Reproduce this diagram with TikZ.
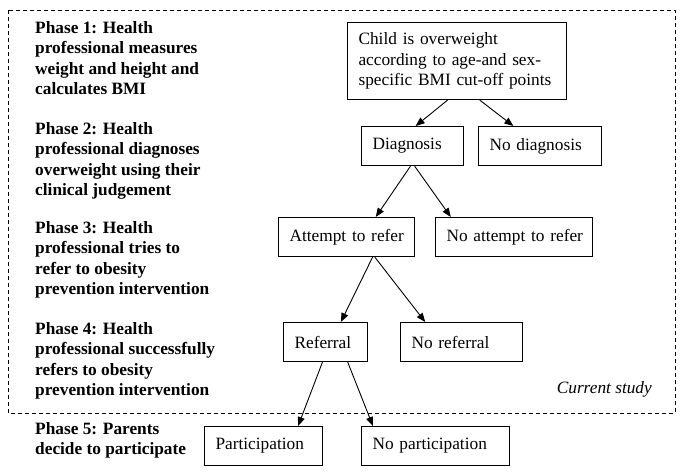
\documentclass[tikz,border=0pt]{standalone}
\usepackage{fontspec}
\setmainfont{Liberation Serif}
\usetikzlibrary{arrows.meta,calc}
\begin{document}
\begin{tikzpicture}[x=1pt,y=-1pt,
  txt/.style={font=\fontsize{17.3}{20.5}\selectfont},
  phase/.style={anchor=base west, align=left, inner sep=0pt, font=\fontsize{17.3}{20.5}\selectfont\bfseries},
  box/.style={draw, line width=1.1pt, anchor=north west, align=left, inner xsep=11pt, inner ysep=0pt, minimum height=39pt, text width=#1, font=\fontsize{17.3}{20.5}\selectfont},
  arr/.style={line width=0.9pt, -{Triangle[length=9pt,width=7pt]}},
  frame/.style={draw, line width=0.9pt, dash pattern=on 4pt off 3pt}
]
\useasboundingbox (0,0) rectangle (685,474);
\draw[frame] (8,10) rectangle (675,413);
% phase labels (anchored at the baseline of their last line)
\node[phase] (p1) at (35,94.5) {Phase 1: Health\\professional measures\\weight and height and\\calculates BMI};
\node[phase] (p2) at (35,195.5) {Phase 2: Health\\professional diagnoses\\overweight using their\\clinical judgement};
\node[phase] (p3) at (35,294.5) {Phase 3: Health\\professional tries to\\refer to obesity\\prevention intervention};
\node[phase] (p4) at (35,395.5) {Phase 4: Health\\professional successfully\\refers to obesity\\prevention intervention};
\node[phase] (p5) at (35,454.5) {Phase 5: Parents\\decide to participate};
% boxes
\node[box=197pt, minimum height=77pt] (child) at (347,22) {Child is overweight\\according to age-and sex-\\specific BMI cut-off points};
\node[box=80pt] (diag) at (361,126) {\mbox{Diagnosis}};
\node[box=101pt] (nodiag) at (478,126) {\mbox{No diagnosis}};
\node[box=114pt] (att) at (278,217) {\mbox{Attempt to refer}};
\node[box=135pt] (noatt) at (435,217) {\mbox{No attempt to refer}};
\node[box=62pt] (ref) at (283,322) {\mbox{Referral}};
\node[box=100pt] (noref) at (400,322) {\mbox{No referral}};
\node[box=96pt] (part) at (204,426) {\mbox{Participation}};
\node[box=126pt] (nopart) at (361,426) {\mbox{No participation}};
\node[txt, anchor=base east, inner sep=0pt, font=\fontsize{17.3}{20.5}\selectfont\itshape] (cs) at (652,393) {Current study};
% arrows
\draw[arr] ($(child.south west)!0.457!(child.south east)$) -- ($(diag.north west)!0.53!(diag.north east)$);
\draw[arr] ($(child.south west)!0.603!(child.south east)$) -- ($(nodiag.north west)!0.285!(nodiag.north east)$);
\draw[arr] ($(diag.south west)!0.48!(diag.south east)$) -- ($(att.north west)!0.713!(att.north east)$);
\draw[arr] ($(diag.south west)!0.52!(diag.south east)$) -- ($(noatt.north west)!0.10!(noatt.north east)$);
\draw[arr] ($(att.south west)!0.69!(att.south east)$) -- ($(ref.north west)!0.68!(ref.north east)$);
\draw[arr] ($(att.south west)!0.706!(att.south east)$) -- ($(noref.north west)!0.205!(noref.north east)$);
\draw[arr] ($(ref.south west)!0.464!(ref.south east)$) -- ($(part.north west)!0.79!(part.north east)$);
\draw[arr] ($(ref.south west)!0.76!(ref.south east)$) -- ($(nopart.north west)!0.08!(nopart.north east)$);
\end{tikzpicture}
\end{document}
